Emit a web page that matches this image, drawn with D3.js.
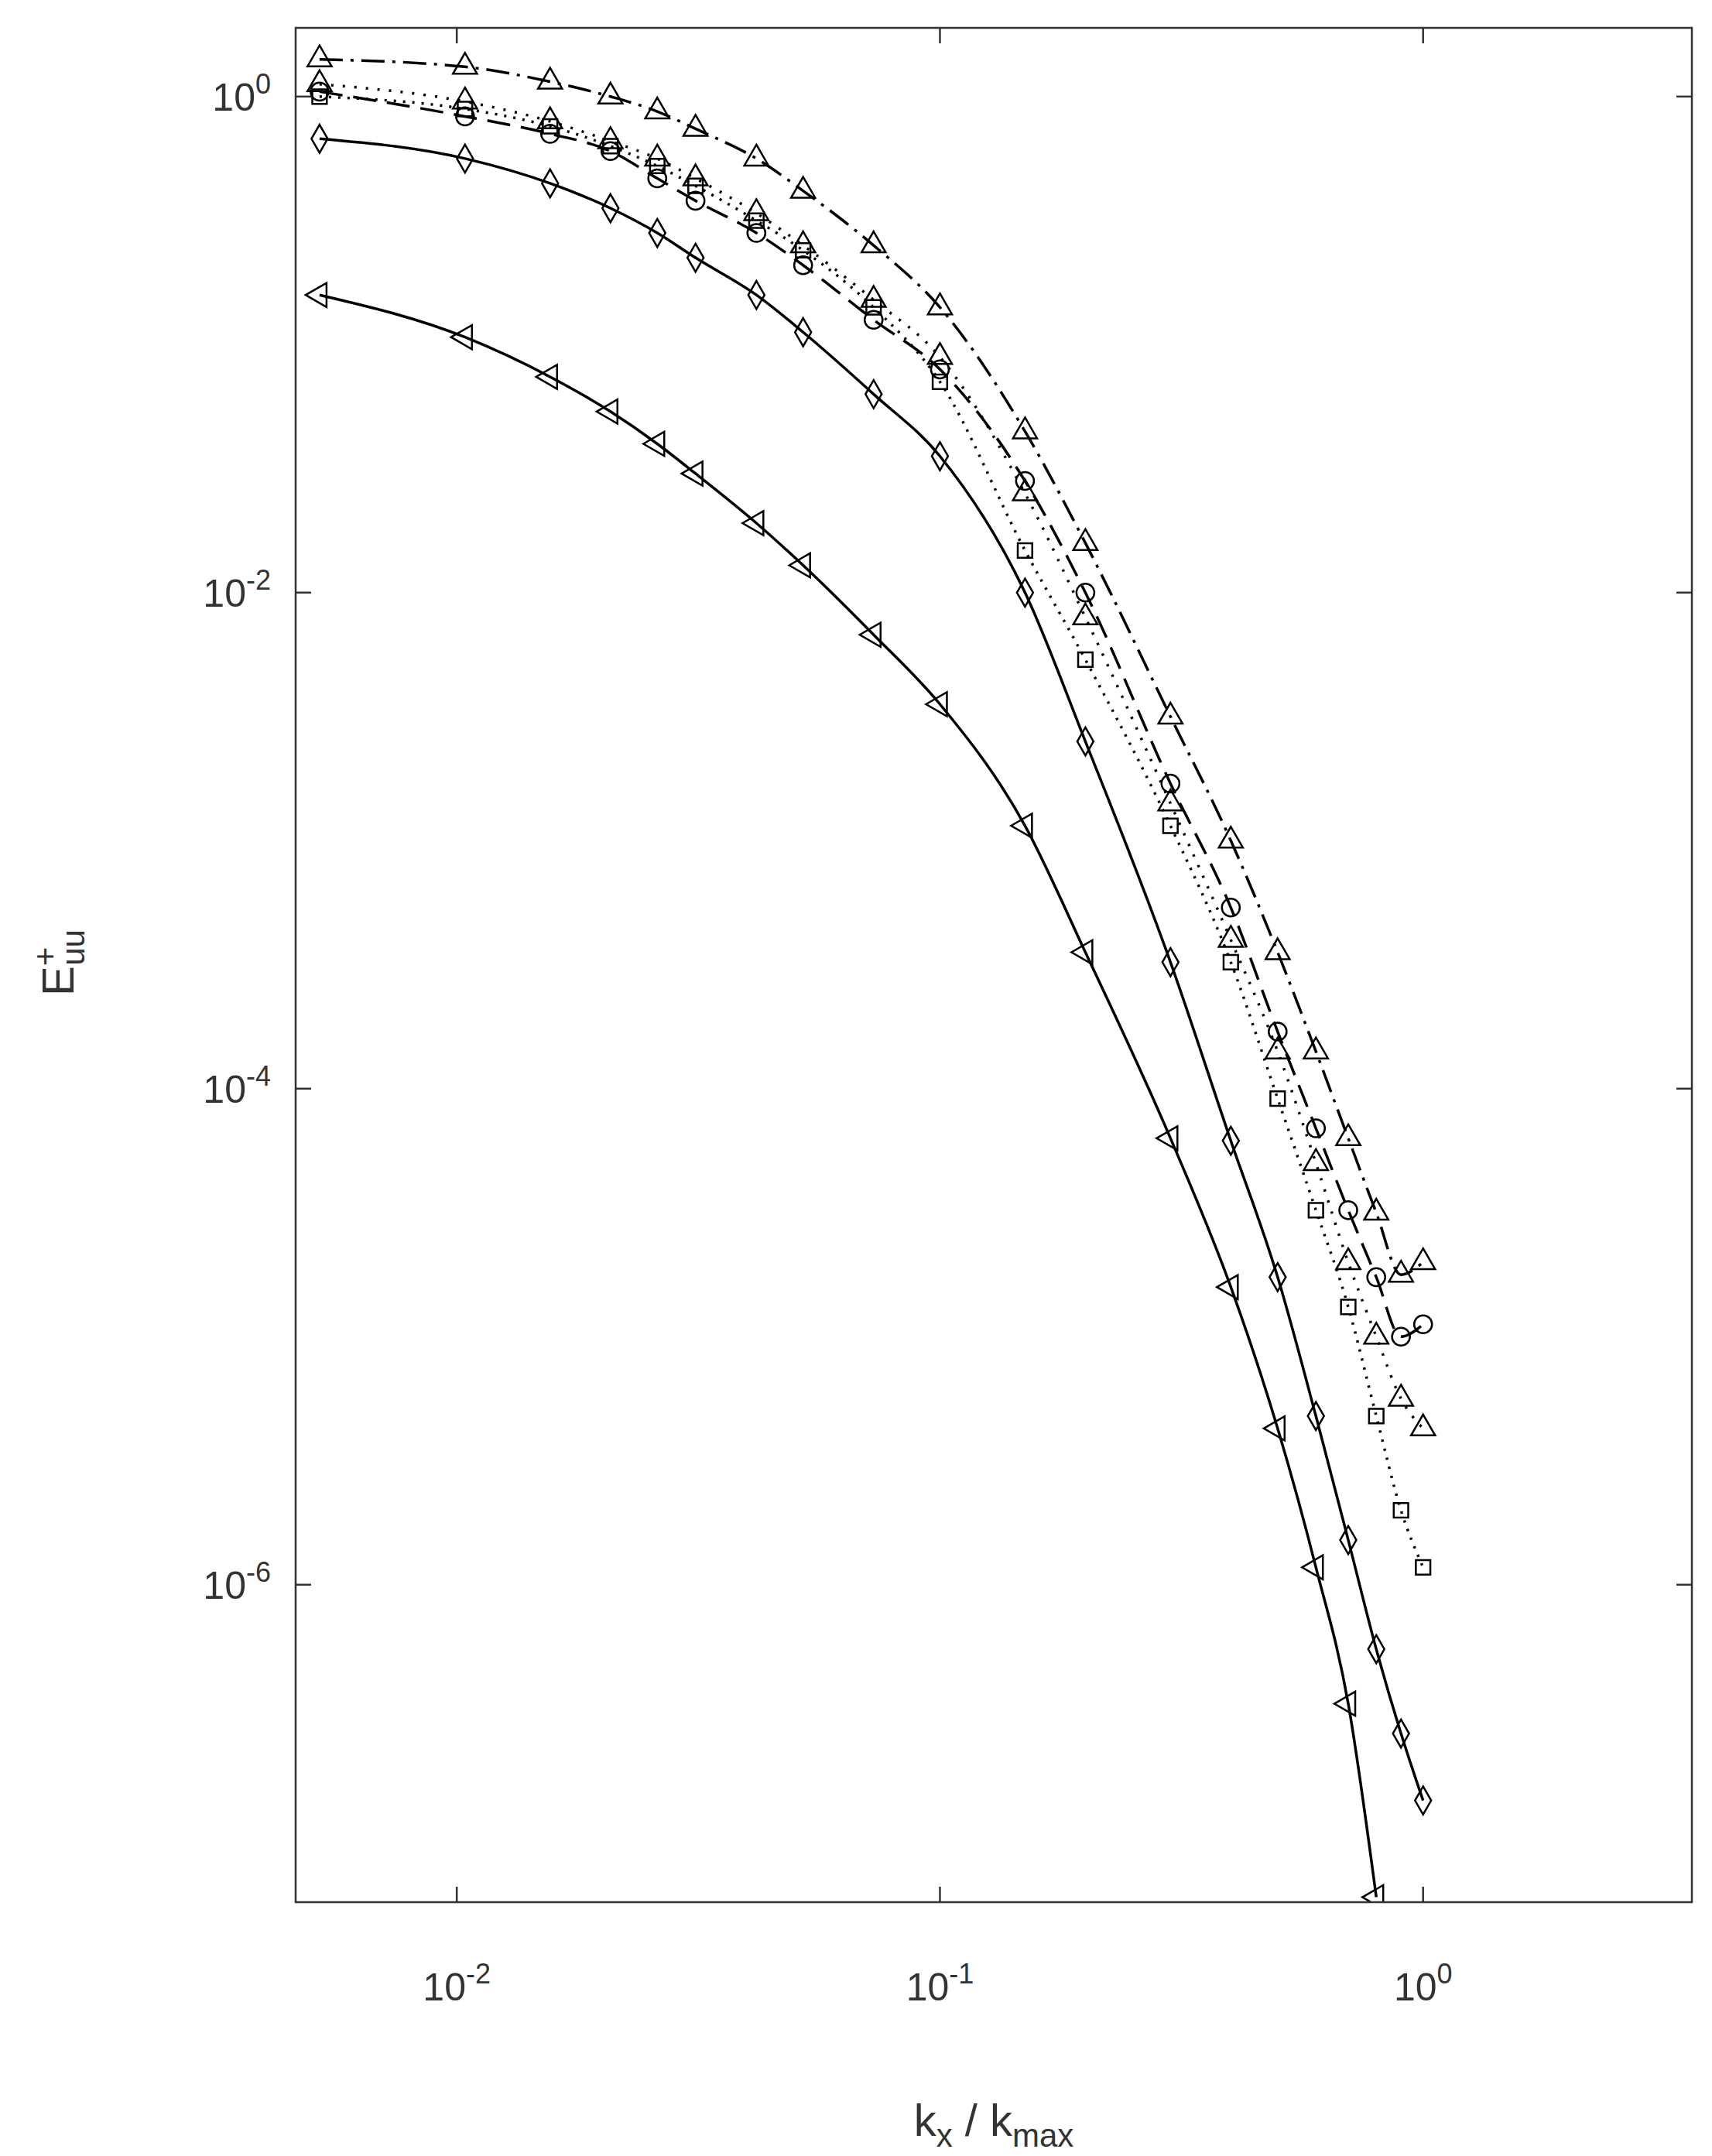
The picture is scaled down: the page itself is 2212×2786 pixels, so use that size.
<!DOCTYPE html>
<html><head><meta charset="utf-8">
<script src="https://cdn.jsdelivr.net/npm/d3@7"></script>
<style>body{margin:0;background:#fff}</style></head>
<body><svg id="c" width="2212" height="2786"></svg>
<script>
const kx = [0.0052,0.0104,0.0156,0.0208,0.026,0.0312,0.0417,0.0521,0.0729,0.1,0.15,0.2,0.3,0.4,0.5,0.6,0.7,0.8,0.9,1.0];
// log10 of E+uu
const serA = [-0.80,-0.97,-1.13,-1.27,-1.40,-1.52,-1.72,-1.89,-2.17,-2.45,-2.94,-3.45,-4.2,-4.8,-5.37,-5.93,-6.48,-7.26,null,null];
const serB = [-0.17,-0.25,-0.35,-0.45,-0.55,-0.65,-0.8,-0.95,-1.2,-1.45,-2.0,-2.6,-3.49,-4.21,-4.76,-5.32,-5.82,-6.26,-6.6,-6.87];
const serC = [0.0,-0.05,-0.12,-0.2,-0.28,-0.36,-0.5,-0.62,-0.85,-1.15,-1.83,-2.27,-2.94,-3.49,-4.04,-4.49,-4.88,-5.32,-5.7,-5.93];
const serF = [0.05,-0.02,-0.1,-0.18,-0.25,-0.33,-0.47,-0.6,-0.82,-1.05,-1.6,-2.1,-2.85,-3.4,-3.85,-4.3,-4.7,-5.0,-5.25,-5.37];
const serD = [0.02,-0.08,-0.15,-0.22,-0.33,-0.42,-0.55,-0.68,-0.9,-1.1,-1.55,-2.0,-2.77,-3.27,-3.77,-4.16,-4.49,-4.76,-5.0,-4.95];
const serE = [0.15,0.12,0.06,0.0,-0.06,-0.13,-0.25,-0.38,-0.6,-0.85,-1.35,-1.8,-2.5,-3.0,-3.45,-3.85,-4.2,-4.5,-4.75,-4.7];
const xTicks = [0.01,0.1,1];
const yTicks = [1,1e-2,1e-4,1e-6];
const series = [
 {v:serA, sym:"tl", dash:null},
 {v:serB, sym:"diamond", dash:null},
 {v:serC, sym:"square", dash:"3,9"},
 {v:serF, sym:"tu", dash:"3,12"},
 {v:serD, sym:"circle", dash:"30,14"},
 {v:serE, sym:"tu", dash:"30,10,4,10"}
];
const L=382,R=2186,T=36,B=2458;
const svg=d3.select("#c");
const x=d3.scaleLog().domain([0.00464,3.6]).range([L,R]);
const y=d3.scaleLog().domain([10**0.277,10**-7.28]).range([T,B]);
const g=svg.append("g");
svg.append("clipPath").attr("id","cp").append("rect").attr("x",L).attr("y",T).attr("width",R-L).attr("height",B-T);
const pg=svg.append("g").attr("clip-path","url(#cp)");
const line=d3.line().defined(d=>d[1]!=null).curve(d3.curveMonotoneX).x(d=>x(d[0])).y(d=>y(10**d[1]));
function sym(t){
  if(t==="tl") return {p:d3.symbol(d3.symbolTriangle,420)(),r:-90};
  if(t==="tu") return {p:d3.symbol(d3.symbolTriangle,420)(),r:0};
  if(t==="diamond") return {p:d3.symbol(d3.symbolDiamond,380)(),r:0};
  if(t==="square") return {p:d3.symbol(d3.symbolSquare,350)(),r:0};
  return {p:d3.symbol(d3.symbolCircle,420)(),r:0};
}
series.forEach(s=>{
  const pts=kx.map((k,i)=>[k,s.v[i]]);
  pg.append("path").attr("d",line(pts)).attr("fill","none").attr("stroke","#000").attr("stroke-width",3.5)
    .attr("stroke-dasharray",s.dash);
  const m=sym(s.sym);
  pg.selectAll(null).data(pts.filter(d=>d[1]!=null)).enter().append("path").attr("d",m.p)
    .attr("transform",d=>`translate(${x(d[0])},${y(10**d[1])}) rotate(${m.r})`)
    .attr("fill","none").attr("stroke","#000").attr("stroke-width",2.5);
});
svg.append("rect").attr("x",L).attr("y",T).attr("width",R-L).attr("height",B-T).attr("fill","none").attr("stroke","#333").attr("stroke-width",2.5);
const tl=20, font="Liberation Sans, Arial, sans-serif";
xTicks.forEach(t=>{
  g.append("line").attr("x1",x(t)).attr("x2",x(t)).attr("y1",B).attr("y2",B-tl).attr("stroke","#333").attr("stroke-width",2.5);
  g.append("line").attr("x1",x(t)).attr("x2",x(t)).attr("y1",T).attr("y2",T+tl).attr("stroke","#333").attr("stroke-width",2.5);
  const e=Math.round(Math.log10(t));
  const tx=g.append("text").attr("x",x(t)).attr("y",2585).attr("text-anchor","middle").attr("font-family",font).attr("font-size",50).attr("fill","#333");
  tx.append("tspan").text("10");
  tx.append("tspan").attr("dy",-22).attr("font-size",36).text(e);
});
yTicks.forEach(t=>{
  g.append("line").attr("x1",L).attr("x2",L+tl).attr("y1",y(t)).attr("y2",y(t)).attr("stroke","#333").attr("stroke-width",2.5);
  g.append("line").attr("x1",R).attr("x2",R-tl).attr("y1",y(t)).attr("y2",y(t)).attr("stroke","#333").attr("stroke-width",2.5);
  const e=Math.round(Math.log10(t));
  const tx=g.append("text").attr("x",350).attr("y",y(t)+18).attr("text-anchor","end").attr("font-family",font).attr("font-size",50).attr("fill","#333");
  tx.append("tspan").text("10");
  tx.append("tspan").attr("dy",-22).attr("font-size",36).text(e);
});
const xl=svg.append("text").attr("x",(L+R)/2).attr("y",2760).attr("text-anchor","middle").attr("font-family",font).attr("font-size",58).attr("fill","#333");
xl.append("tspan").text("k");
xl.append("tspan").attr("dy",14).attr("font-size",42).text("x");
xl.append("tspan").attr("dy",-14).text(" / k");
xl.append("tspan").attr("dy",14).attr("font-size",42).text("max");
const yl=svg.append("text").attr("transform","translate(95,1244) rotate(-90)").attr("text-anchor","middle").attr("font-family",font).attr("font-size",58).attr("fill","#333");
yl.append("tspan").text("E");
yl.append("tspan").attr("dy",-22).attr("font-size",42).text("+");
yl.append("tspan").attr("dx",-24).attr("dy",36).attr("font-size",42).text("uu");
</script></body></html>
